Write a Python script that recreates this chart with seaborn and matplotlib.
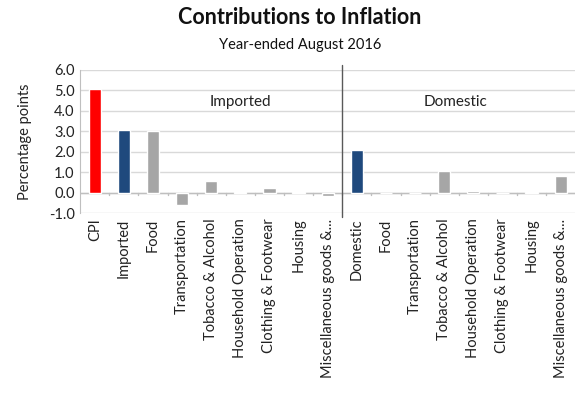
import numpy as np
import pandas as pd
import matplotlib
matplotlib.use("Agg")
import matplotlib.pyplot as plt
import seaborn as sns

# ---- data ----
categories = ["CPI", "Imported", "Food", "Transportation", "Tobacco & Alcohol",
              "Household Operation", "Clothing & Footwear", "Housing",
              "Miscellaneous goods &...",
              "Domestic", "Food", "Transportation", "Tobacco & Alcohol",
              "Household Operation", "Clothing & Footwear", "Housing",
              "Miscellaneous goods &..."]
values = [5.05, 3.05, 3.0, -0.6, 0.55, 0.02, 0.2, 0.03, -0.15,
          2.1, 0.0, 0.0, 1.05, 0.1, 0.0, 0.03, 0.8]
kinds = ["total", "group", "item", "item", "item", "item", "item", "item", "item",
         "group", "item", "item", "item", "item", "item", "item", "item"]
colors = {"total": "#FF0000", "group": "#1F497D", "item": "#A6A6A6"}

df = pd.DataFrame({"pos": range(len(categories)), "value": values, "kind": kinds})

sns.set_style("white")
plt.rcParams["font.family"] = ["Lato", "DejaVu Sans"]

fig = plt.figure(figsize=(5.77, 3.93), dpi=100)
ax = fig.add_axes([0.139, 0.458, 0.858, 0.364])

sns.barplot(data=df, x="pos", y="value", hue="kind", palette=colors, saturation=1,
            dodge=False, width=0.42, legend=False, ax=ax, zorder=3)

ax.set_ylim(-1, 6)
ax.set_yticks(np.arange(-1, 7, 1))
ax.set_yticklabels([f"{v:.1f}" for v in np.arange(-1, 7, 1)], fontsize=10.5, color="#222222")
ax.set_xlim(-0.5, len(categories) - 0.5)
ax.set_xticks(range(len(categories)))
ax.set_xticklabels(categories, rotation=90, fontsize=10.5, color="#222222")
ax.tick_params(axis="both", length=0, pad=4)
ax.grid(axis="y", color="#D9D9D9", linewidth=1, zorder=0)

for s in ["top", "right", "bottom"]:
    ax.spines[s].set_visible(False)
ax.spines["left"].set_color("#BFBFBF")

# zero axis with small ticks between categories
ax.axhline(0, color="#BFBFBF", linewidth=1, zorder=2)
for b in np.arange(0.5, len(categories) - 1, 1):
    ax.plot([b, b], [0, -0.14], color="#BFBFBF", linewidth=1, zorder=2)

# divider between imported and domestic
ax.plot([8.5, 8.5], [-1.2, 6.25], color="#595959", linewidth=1, clip_on=False, zorder=4)

ax.text(5.0, 4.45, "Imported", ha="center", va="center", fontsize=11, color="#222222")
ax.text(12.4, 4.45, "Domestic", ha="center", va="center", fontsize=11, color="#222222")

ax.set_xlabel("")
ax.set_ylabel("Percentage points", fontsize=10.5, color="#222222", labelpad=12)

fig.text(0.52, 0.955, "Contributions to Inflation", ha="center", va="center",
         fontsize=15.5, fontweight="bold", color="#111111")
fig.text(0.52, 0.885, "Year-ended August 2016", ha="center", va="center",
         fontsize=10.5, color="#111111")

fig.savefig("out.png", dpi=100)
